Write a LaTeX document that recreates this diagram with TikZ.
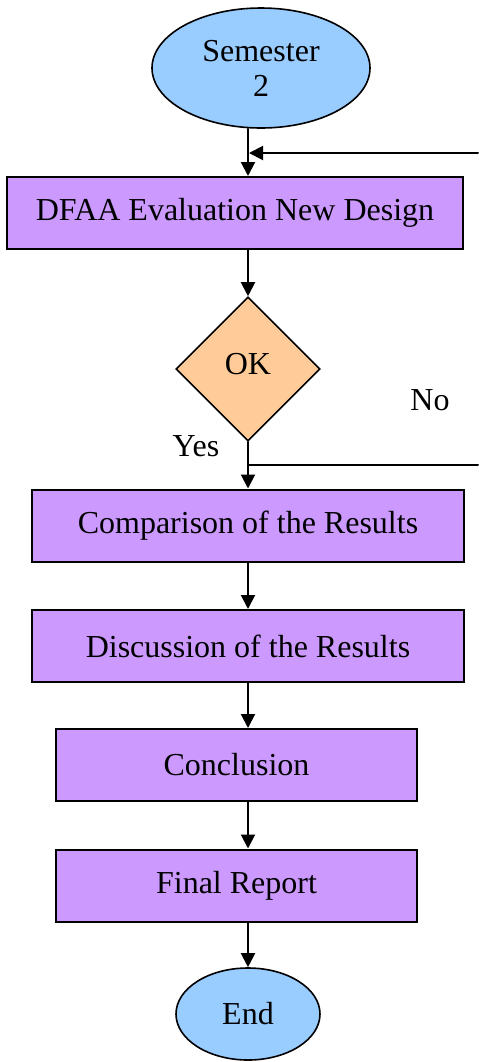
\documentclass[tikz,border=0pt]{standalone}
\usepackage{fontspec}
\setmainfont{Liberation Serif}
\usetikzlibrary{shapes.geometric,arrows.meta}
\definecolor{boxpurple}{RGB}{204,153,255}
\definecolor{ovalblue}{RGB}{153,204,255}
\definecolor{okorange}{RGB}{255,204,153}
\begin{document}
\begin{tikzpicture}[x=0.5pt, y=-0.5pt, font=\fontsize{16}{17.5}\selectfont, line cap=round, >={Triangle[length=7pt,width=7pt]},
    stepbox/.style={draw, line width=1pt, fill=boxpurple, rectangle, inner sep=0pt, minimum height=36pt},
    oval/.style={draw, line width=0.8pt, fill=ovalblue, ellipse, inner sep=0pt, align=center},
    link/.style={line width=1pt}]
    \def\xmax{478} \def\ymax{1062} % px
    \useasboundingbox (0,0) rectangle (\xmax,\ymax);
    % nodes
    \node[oval, minimum width=109pt, minimum height=60pt] (sem) at (261,68) {Semester\\2};
    \node[stepbox, minimum width=228pt] (dfaa) at (235,213) {DFAA Evaluation New Design};
    \node[draw, line width=0.8pt, fill=okorange, diamond, aspect=1, inner sep=0pt, minimum size=72pt] (ok) at (248,369) {\raisebox{5pt}{OK}};
    \node[stepbox, minimum width=216pt] (cmp) at (248,525.5) {Comparison of the Results};
    \node[stepbox, minimum width=216pt] (dsc) at (248,646) {Discussion of the Results};
    \node[stepbox, minimum width=180.5pt] (con) at (236.5,765) {Conclusion};
    \node[stepbox, minimum width=180.5pt] (fin) at (236.5,885.5) {Final Report};
    \node[oval, minimum width=72pt, minimum height=46pt] (end) at (248,1014) {End};
    \node (lblno) at (430,400) {No};
    \node (lblyes) at (196,446) {Yes};
    \coordinate (noout) at (\xmax,465);
    \coordinate (noin) at (\xmax,153);
    % connectors
    \draw[link,->] (sem.south -| ok) -- (dfaa.north -| ok);
    \draw[link,->] (dfaa.south -| ok) -- (ok.north);
    \draw[link,->] (ok.south) -- (cmp.north -| ok);
    \draw[link,->] (cmp.south -| ok) -- (dsc.north -| ok);
    \draw[link,->] (dsc.south -| ok) -- (con.north -| ok);
    \draw[link,->] (con.south -| ok) -- (fin.north -| ok);
    \draw[link,->] (fin.south -| ok) -- (end.north);
    \draw[link] (noout -| ok) -- (noout);
    \draw[link,->] (noin) -- ([xshift=0.5pt]noin -| ok);
\end{tikzpicture}
\end{document}
